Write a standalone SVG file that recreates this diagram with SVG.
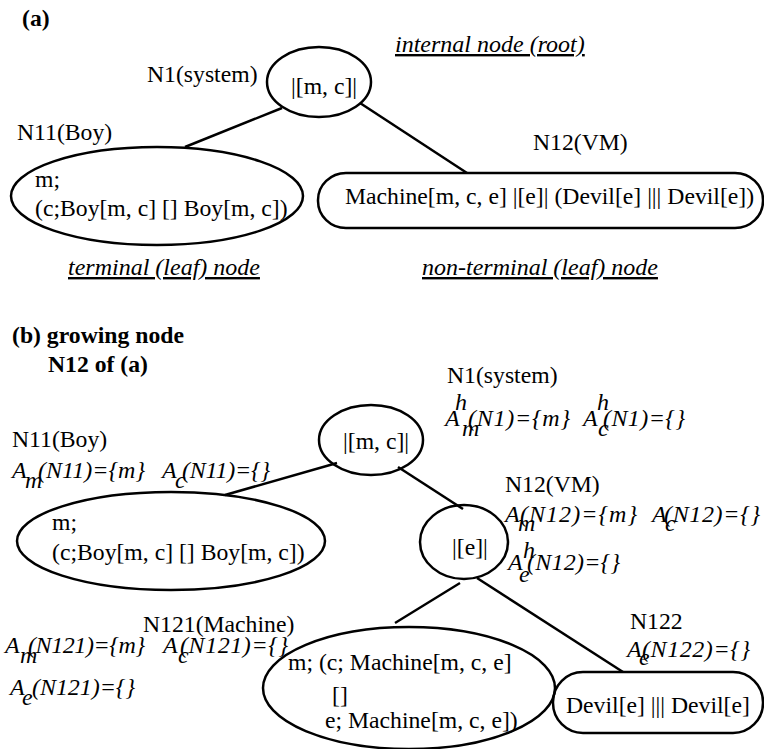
<svg xmlns="http://www.w3.org/2000/svg" width="764" height="749" viewBox="0 0 764 749">
  <style>
    text { font-family: 'Liberation Serif', 'Times New Roman', serif; font-size: 23.7px; fill: #000; }
    .b { font-weight: bold; }
    .i { font-style: italic; font-size: 24px; }
    .u { text-decoration: underline; }
    .shape { fill: none; stroke: #000; stroke-width: 2.5; }
    .edge { stroke: #000; stroke-width: 2.5; fill: none; }
  </style>
  <rect width="764" height="749" fill="#fff"/>

  <!-- tree edges -->
  <g id="connectors">
    <line class="edge" x1="282" y1="108" x2="185" y2="147"/>
    <line class="edge" x1="360" y1="103" x2="467" y2="173"/>
    <line class="edge" x1="337" y1="463" x2="225" y2="495"/>
    <line class="edge" x1="398" y1="467" x2="463" y2="509"/>
    <line class="edge" x1="460" y1="583" x2="395" y2="623"/>
    <line class="edge" x1="477" y1="578" x2="623" y2="672"/>
  </g>

  <!-- part (a): initial tree -->
  <text class="b" x="22" y="26">(a)</text>
  <text class="i u" x="395" y="52">internal node (root)</text>
  <text class="i u" x="68" y="275">terminal (leaf) node</text>
  <text class="i u" x="422" y="275">non-terminal (leaf) node</text>

  <g id="a-n1">
    <text x="147" y="82">N1(system)</text>
    <ellipse class="shape" cx="319" cy="82" rx="52" ry="35"/>
    <text x="291" y="94">|[m, c]|</text>
  </g>
  <g id="a-n11">
    <text x="17" y="140">N11(Boy)</text>
    <ellipse class="shape" cx="157" cy="196" rx="146" ry="49"/>
    <text x="35" y="187">m;</text>
    <text x="35" y="216">(c;Boy[m, c] [] Boy[m, c])</text>
  </g>
  <g id="a-n12">
    <text x="533" y="150">N12(VM)</text>
    <rect class="shape" x="318" y="173" width="445" height="55" rx="28" ry="27"/>
    <text x="345" y="204">Machine[m, c, e] |[e]| (Devil[e] ||| Devil[e])</text>
  </g>

  <!-- part (b): N12 expanded -->
  <text class="b" x="12" y="343">(b) growing node</text>
  <text class="b" x="48" y="372">N12 of (a)</text>

  <g id="b-n1">
    <text x="447" y="383">N1(system)</text>
    <text class="i" x="455" y="410">h</text>
    <text class="i" x="445" y="426">A</text>
    <text class="i" x="462" y="436">m</text>
    <text class="i" x="468" y="426" textLength="102">(N1)={m}</text>
    <text class="i" x="597" y="410">h</text>
    <text class="i" x="583" y="426">A</text>
    <text class="i" x="598" y="436">c</text>
    <text class="i" x="603" y="426" textLength="82">(N1)={}</text>
    <ellipse class="shape" cx="371" cy="440" rx="52" ry="35"/>
    <text x="343" y="449">|[m, c]|</text>
  </g>

  <g id="b-n11">
    <text x="12" y="447">N11(Boy)</text>
    <text class="i" x="12" y="478">A</text>
    <text class="i" x="25" y="488">m</text>
    <text class="i" x="38" y="478" textLength="107">(N11)={m}</text>
    <text class="i" x="162" y="478">A</text>
    <text class="i" x="175" y="488">c</text>
    <text class="i" x="182" y="478" textLength="88">(N11)={}</text>
    <ellipse class="shape" cx="171" cy="541" rx="154" ry="49"/>
    <text x="52" y="530">m;</text>
    <text x="52" y="560">(c;Boy[m, c] [] Boy[m, c])</text>
  </g>

  <g id="b-n12">
    <text x="505" y="492">N12(VM)</text>
    <text class="i" x="505" y="522">A</text>
    <text class="i" x="518" y="531">m</text>
    <text class="i" x="520" y="522" textLength="117">(N12)={m}</text>
    <text class="i" x="652" y="522">A</text>
    <text class="i" x="665" y="531">c</text>
    <text class="i" x="664" y="522" textLength="96">(N12)={}</text>
    <text class="i" x="523" y="558">h</text>
    <text class="i" x="508" y="570">A</text>
    <text class="i" x="519" y="582">e</text>
    <text class="i" x="527" y="570" textLength="93">(N12)={}</text>
    <ellipse class="shape" cx="464" cy="542" rx="44" ry="37"/>
    <text x="452" y="555">|[e]|</text>
  </g>

  <g id="b-n121">
    <text x="143" y="632">N121(Machine)</text>
    <text class="i" x="5" y="653">A</text>
    <text class="i" x="20" y="663">m</text>
    <text class="i" x="28" y="653" textLength="117">(N121)={m}</text>
    <text class="i" x="163" y="653">A</text>
    <text class="i" x="178" y="663">c</text>
    <text class="i" x="180" y="653" textLength="108">(N121)={}</text>
    <text class="i" x="10" y="695">A</text>
    <text class="i" x="22" y="705">e</text>
    <text class="i" x="32" y="695" textLength="103">(N121)={}</text>
    <ellipse class="shape" cx="409" cy="688" rx="146" ry="61"/>
    <text x="288" y="670">m; (c; Machine[m, c, e]</text>
    <text x="332" y="703">[]</text>
    <text x="325" y="728">e; Machine[m, c, e])</text>
  </g>

  <g id="b-n122">
    <text x="630" y="629">N122</text>
    <text class="i" x="627" y="657">A</text>
    <text class="i" x="639" y="665">e</text>
    <text class="i" x="642" y="657" textLength="108">(N122)={}</text>
    <rect class="shape" x="553" y="672" width="210" height="61" rx="30" ry="30"/>
    <text x="566" y="713">Devil[e] ||| Devil[e]</text>
  </g>
</svg>
